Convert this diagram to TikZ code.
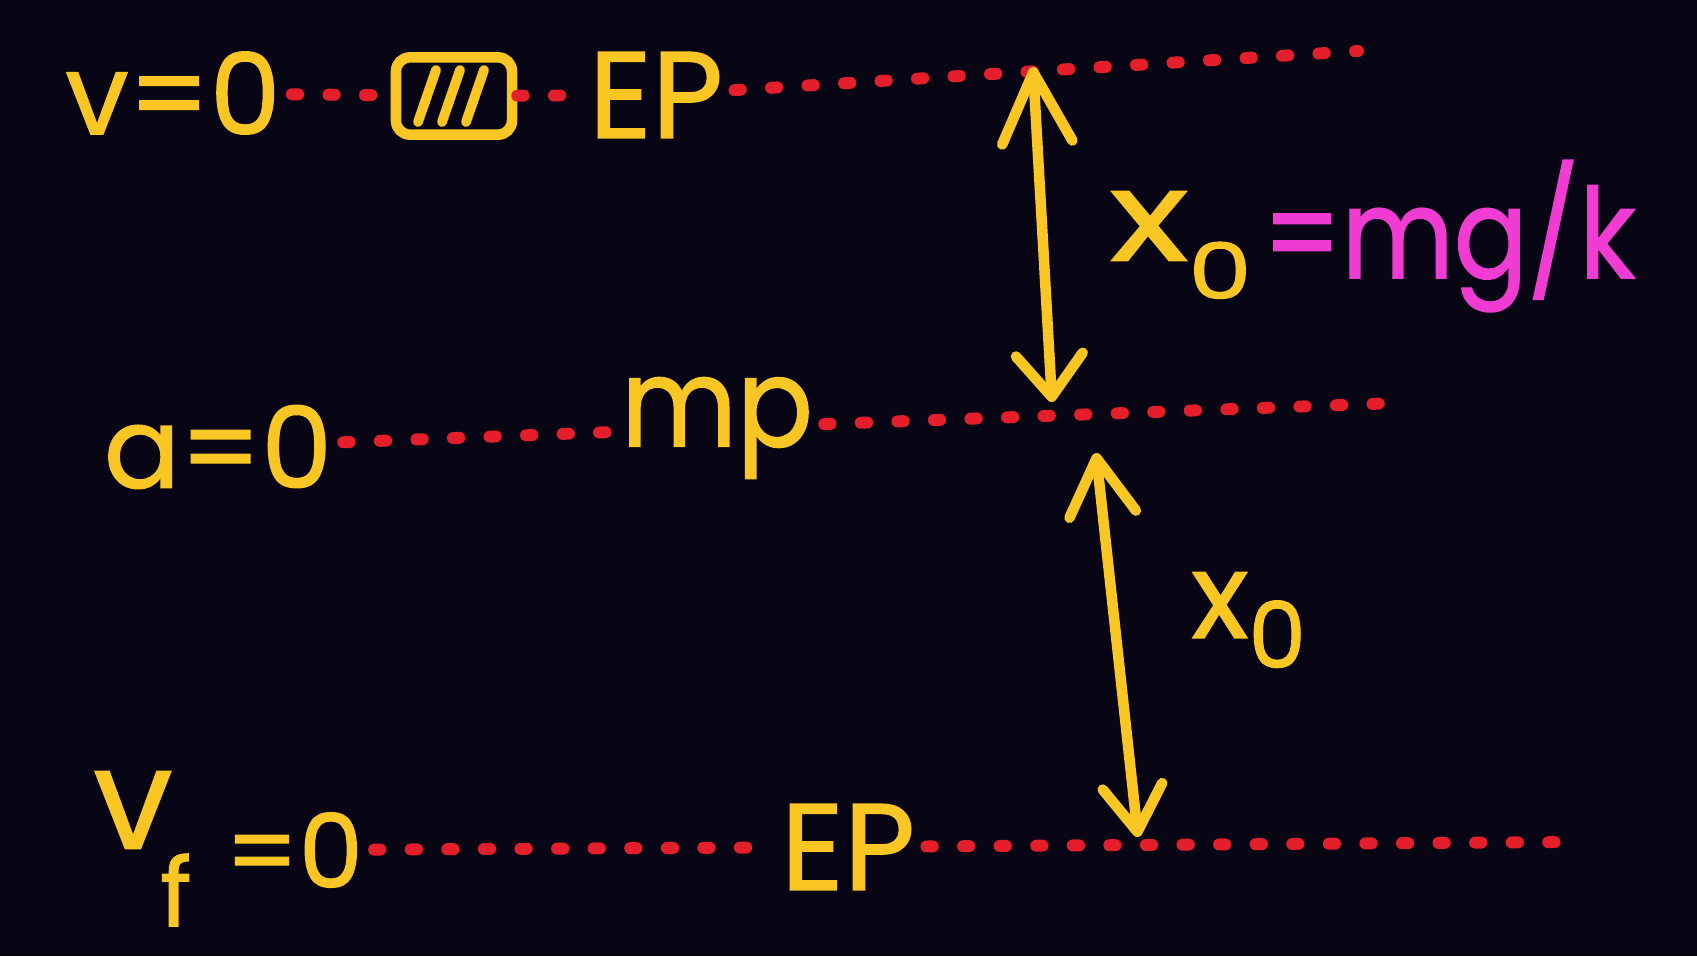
\documentclass[tikz,border=0pt]{standalone}
\usepackage{fontspec}
\setmainfont{Poppins}[FakeBold=1.2]
\usetikzlibrary{arrows.meta}
\definecolor{bg}{HTML}{080614}
\definecolor{yel}{HTML}{F9C623}
\definecolor{mag}{HTML}{F03CD2}
\definecolor{dotred}{HTML}{E51E2B}
\begin{document}
\begin{tikzpicture}[x=0.01cm, y=-0.01cm,
  hand/.style={text=yel, inner sep=3pt, font=\bfseries},
  pinkt/.style={text=mag, inner sep=2pt},
  dotline/.style={draw=dotred, line width=3.4pt, line cap=round, dash pattern=on 1.8pt off 8.6pt},
  dbl/.style={draw=yel, line width=3pt, line cap=round},
  hatch/.style={draw=yel, line width=2.8pt, line cap=round},
  block/.style={draw=yel, line width=3pt, rounded corners=4pt, minimum width=33pt, minimum height=22pt, inner sep=0pt}
]
\fill[bg] (0,0) rectangle (1697,956);
\useasboundingbox (0,0) rectangle (1697,956);

% top level
\node[hand, font=\fontsize{32}{32}\selectfont] (v0) at (173,93) {v=0};
\node[block] (blk) at (454,96) {};
\draw[hatch] ([shift={(-36,26)}]blk.center) -- ++(18,-52);
\draw[hatch] ([shift={(-12,26)}]blk.center) -- ++(18,-52);
\draw[hatch] ([shift={(12,26)}]blk.center) -- ++(18,-52);
\node[hand, font=\fontsize{35}{35}\selectfont] (ep1) at (656,95) {EP};

% middle level
\node[hand, font=\fontsize{32}{32}\selectfont] (a0) at (218,447) {a=0};
\node[hand, font=\fontsize{32}{32}\selectfont, yscale=1.1] (mp) at (717,428) {mp};

% bottom level
\node[hand, inner sep=0pt, font=\fontsize{40}{40}\selectfont] (vv) at (133,810) {v};
\node[hand, inner sep=0pt, font=\fontsize{27}{27}\selectfont] (vf) at (176,890) {f};
\node[hand, font=\fontsize{29}{29}\selectfont] (veq) at (294,850) {=0};
\node[hand, font=\fontsize{35}{35}\selectfont] (ep2) at (848,847) {EP};

% labels
\node[hand, anchor=west, xscale=1.3, font=\fontsize{36}{36}\selectfont] (x0a) at (1095,245) {x\raisebox{-0.3em}{\fontsize{22}{22}\selectfont 0}};
\node[pinkt, anchor=west, yscale=1.15, font=\fontsize{31}{31}\selectfont] (mg) at (1255,236) {=mg/k};
\node[hand, anchor=west, font=\fontsize{34}{34}\selectfont] (x0b) at (1180,620) {x\raisebox{-0.25em}{\fontsize{26}{26}\selectfont 0}};

% dotted levels
\coordinate (t1) at (1358,51);
\coordinate (m1) at (1396,403);
\coordinate (b1) at (1568,842);
\draw[dotline] (v0) -- (blk);
\draw[dotline] (blk) -- (ep1);
\draw[dotline] (ep1) -- (t1);
\draw[dotline] (a0) -- (mp) -- (m1);
\draw[dotline] (veq) -- (ep2) -- (b1);

% arrows
\coordinate (p1) at (1033,67);
\coordinate (p2) at (1052,402);
\coordinate (p3) at (1096,453);
\coordinate (p4) at (1138,837);
\draw[dbl, {Straight Barb[round,length=20pt,width=20pt]}-{Straight Barb[round,length=12pt,width=19pt]}] (p1) -- (p2);
\draw[dbl, {Straight Barb[round,length=16pt,width=19pt]}-{Straight Barb[round,length=13pt,width=17pt]}] (p3) -- (p4);
\end{tikzpicture}
\end{document}
